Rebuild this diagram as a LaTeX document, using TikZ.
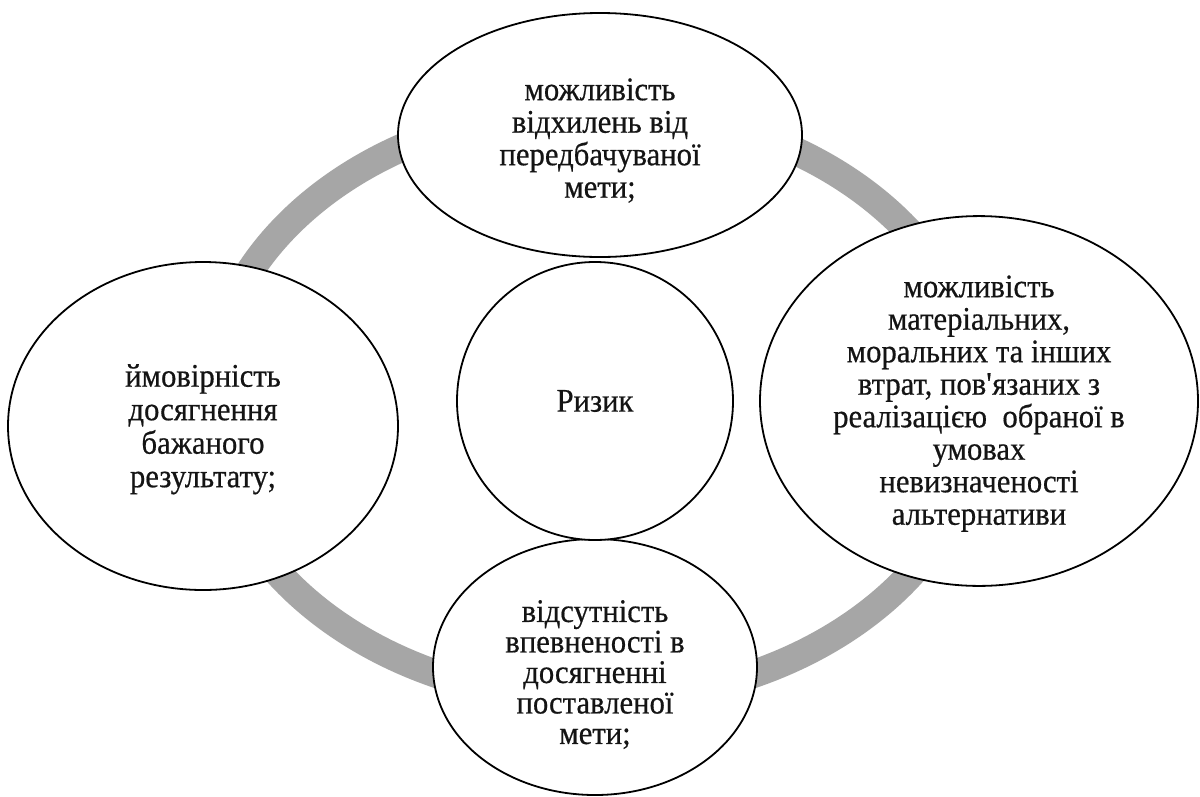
\documentclass[tikz,border=0pt]{standalone}
\usepackage{fontspec}
\setmainfont{Liberation Serif}[FakeBold=0.5,FakeStretch=0.93]
\usetikzlibrary{shapes.geometric}
\definecolor{ringgray}{RGB}{166,166,166}
\definecolor{txt}{RGB}{20,20,20}
\begin{document}
\begin{tikzpicture}[x=1pt,y=-1pt,
  bubble/.style={ellipse, draw=black, line width=1.8pt, fill=white, inner sep=0pt,
    align=center, font=\fontsize{33}{32.5}\selectfont, text=txt},
  ringline/.style={draw=ringgray, line width=28pt}]
\useasboundingbox (0,0) rectangle (1200,796);
\fill[white] (0,0) rectangle (1200,796);
\draw[ringline] (595,404) ellipse [x radius=386pt, y radius=296pt];
\node[bubble, minimum width=404pt, minimum height=244pt] (top) at (600,135)
  {\rule{0pt}{33pt}можливість\\відхилень від\\передбачуваної\\мети;};
\node[bubble, minimum width=390pt, minimum height=328pt,
  font=\fontsize{33}{33.5}\selectfont] (left) at (203,426)
  {\rule{0pt}{29pt}ймовірність\\досягнення\\бажаного\\результату;};
\node[bubble, minimum width=438pt, minimum height=366pt] (right) at (979,401)
  {\rule{0pt}{27pt}можливість\\матеріальних,\\моральних та інших\\втрат, пов\textquotesingle язаних з\\реалізацією\ \ обраної в\\умовах\\невизначеності\\альтернативи};
\node[bubble, minimum width=324pt, minimum height=256pt,
  font=\fontsize{33}{30.5}\selectfont] (bottom) at (595,667)
  {\rule{0pt}{37pt}відсутність\\впевненості в\\досягненні\\поставленої\\мети;};
\node[bubble, minimum width=276pt, minimum height=278pt] (center) at (595,401)
  {Ризик};
\end{tikzpicture}
\end{document}
